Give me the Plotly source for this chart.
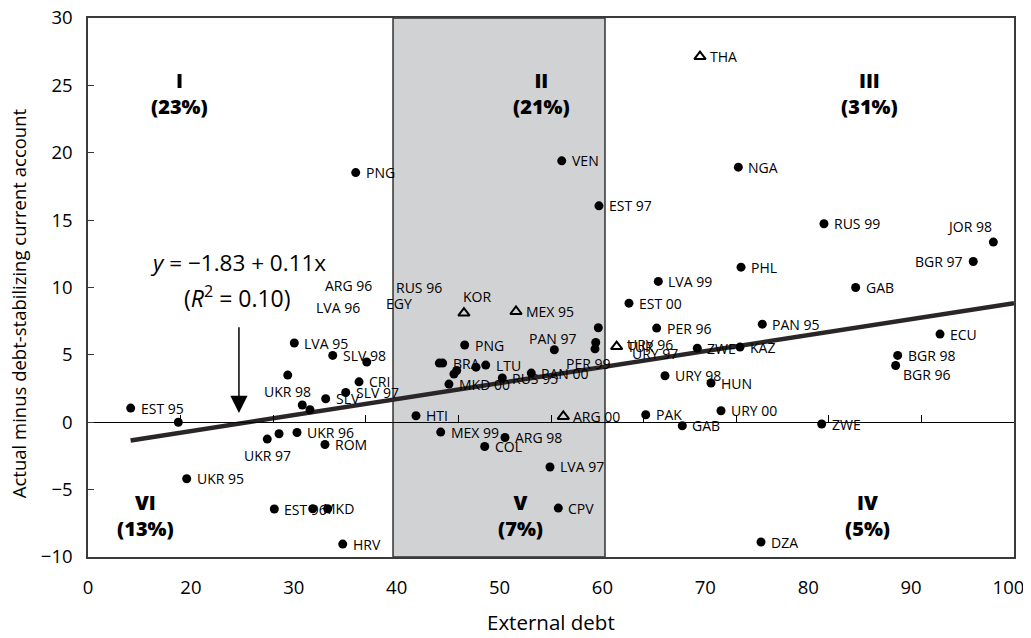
import plotly.graph_objects as go

# ---------------- data ----------------
circle_names = ["EST 95", "", "UKR 95", "UKR 98", "", "", "LVA 95", "SLV 98", "", "SLV",
                "SLV 97", "CRI", "UKR 97", "", "UKR 96", "ROM", "EST 96", "MKD", "", "HRV",
                "PNG", "PNG", "PAN 97", "", "", "", "BRA", "", "", "",
                "", "LTU", "MKD 00", "RUS 95", "PAN 00", "HTI", "MEX 99", "ARG 98", "COL", "LVA 97",
                "CPV", "VEN", "EST 97", "NGA", "PHL", "LVA 99", "GAB", "EST 00", "PER 96", "PAN 95",
                "ZWE", "KAZ", "ECU", "BGR 98", "BGR 96", "URY 98", "HUN", "PAK", "URY 00", "GAB",
                "ZWE", "DZA", "RUS 99", "JOR 98", "BGR 97"]
circle_x = [4.61, 9.75, 10.66, 21.57, 23.14, 23.97, 22.28, 26.43, 30.10, 25.67,
            27.83, 29.27, 19.36, 20.63, 22.57, 25.59, 20.12, 24.27, 25.89, 27.51,
            28.91, 40.68, 50.36, 55.11, 54.83, 54.75, 38.30, 37.94, 39.82, 39.52,
            41.90, 42.95, 38.98, 44.74, 47.87, 35.42, 38.09, 45.03, 42.84, 49.89,
            50.79, 51.16, 55.18, 70.23, 70.52, 61.59, 82.90, 58.42, 61.41, 72.82,
            65.80, 70.41, 92.01, 87.44, 87.22, 62.31, 67.28, 60.23, 68.36, 64.18,
            79.23, 72.68, 79.48, 97.77, 95.60]
circle_y = [1.05, 0.00, -4.19, 3.50, 1.28, 0.93, 5.88, 4.96, 4.47, 1.74,
            2.21, 3.00, -1.25, -0.85, -0.76, -1.65, -6.44, -6.42, -6.42, -9.04,
            18.53, 5.73, 5.38, 7.01, 5.92, 5.45, 4.39, 4.39, 3.84, 3.58,
            4.09, 4.24, 2.83, 3.28, 3.65, 0.48, -0.73, -1.13, -1.80, -3.32,
            -6.37, 19.40, 16.06, 18.93, 11.51, 10.45, 10.00, 8.84, 6.99, 7.28,
            5.50, 5.58, 6.54, 4.96, 4.21, 3.45, 2.91, 0.56, 0.85, -0.26,
            -0.13, -8.89, 14.73, 13.37, 11.93]

triangle_names = ["KOR", "MEX 95", "TUR", "ARG 00", "THA"]
triangle_x = [40.60, 46.22, 57.09, 51.33, 66.09]
triangle_y = [8.10, 8.22, 5.62, 0.43, 27.14]

# labels printed without a visible marker
loose_names = ["ARG 96", "LVA 96", "RUS 96", "EGY", "PER 99", "URY 96", "URY 97"]
loose_x = [28.08, 27.00, 35.75, 33.59, 54.00, 60.69, 61.23]
loose_y = [10.13, 8.49, 10.00, 8.79, 4.34, 5.75, 5.12]

trend_x = [4.6, 100.0]
trend_y = [-1.35, 8.84]

zone_names = ["I", "II", "III", "IV", "V", "VI"]
zone_shares = ["(23%)", "(21%)", "(31%)", "(5%)", "(7%)", "(13%)"]
zone_x = [9.9, 49.0, 84.4, 84.2, 46.7, 6.2]
zone_y = [24.4, 24.4, 24.4, -6.9, -6.9, -6.9]

band_x = [32.94, 55.83]          # shaded zone
x_tick_text = ["0", "20", "30", "40", "50", "60", "70", "80", "90", "100"]
zero_line_ticks = [10, 20, 30, 40, 50, 60, 70, 80, 90]

# ---------------- styling ----------------
FONT = "Open Sans, Noto Sans, DejaVu Sans, sans-serif"
label_pos = {"UKR 98": "b", "UKR 97": "b", "KOR": "tr", "PAN 97": "t",
             "JOR 98": "tl", "BGR 97": "l", "BGR 96": "br"}
pos_style = {
    "r": dict(xanchor="left", yanchor="middle", xshift=8, yshift=0),
    "l": dict(xanchor="right", yanchor="middle", xshift=-8, yshift=0),
    "b": dict(xanchor="center", yanchor="middle", xshift=0, yshift=-16),
    "t": dict(xanchor="center", yanchor="middle", xshift=-2, yshift=11),
    "tl": dict(xanchor="right", yanchor="middle", xshift=1, yshift=16),
    "tr": dict(xanchor="left", yanchor="middle", xshift=-3, yshift=17),
    "br": dict(xanchor="left", yanchor="middle", xshift=5, yshift=-9),
}
LABEL_SIZE = 14

# evenly spread tick labels; the last one is pulled in slightly so it is not clipped
n_ticks = len(x_tick_text)
x_tick_pos = [i * 100 / (n_ticks - 1) for i in range(n_ticks)]
x_tick_pos[-1] = 99.4

fig = go.Figure()

fig.add_trace(go.Scatter(x=trend_x, y=trend_y, mode="lines",
                         line=dict(color="#2a2627", width=4.5), hoverinfo="skip",
                         showlegend=False))
fig.add_trace(go.Scatter(x=circle_x, y=circle_y, mode="markers",
                         marker=dict(symbol="circle", size=9, color="black"),
                         text=circle_names, showlegend=False))
fig.add_trace(go.Scatter(x=triangle_x, y=triangle_y, mode="markers",
                         marker=dict(symbol="triangle-up-open", size=10, color="black",
                                     line=dict(width=2, color="black")),
                         text=triangle_names, showlegend=False))
# zero line with tick marks
fig.add_trace(go.Scatter(x=[None], y=[None], xaxis="x2", showlegend=False, hoverinfo="skip"))

annotations = []
for names, xs, ys in [(circle_names, circle_x, circle_y),
                      (triangle_names, triangle_x, triangle_y)]:
    for n, xv, yv in zip(names, xs, ys):
        if not n:
            continue
        st = pos_style[label_pos.get(n, "r")]
        annotations.append(dict(x=xv, y=yv, text=n, showarrow=False,
                                font=dict(family=FONT, size=LABEL_SIZE, color="black"), **st))
for n, xv, yv in zip(loose_names, loose_x, loose_y):
    annotations.append(dict(x=xv, y=yv, text=n, showarrow=False, xanchor="center",
                            yanchor="middle", font=dict(family=FONT, size=LABEL_SIZE, color="black")))

for zn, zs, zx, zy in zip(zone_names, zone_shares, zone_x, zone_y):
    annotations.append(dict(x=zx, y=zy, text=zn + "<br>" + zs, showarrow=False,
                            xanchor="center", yanchor="middle", align="center",
                            font=dict(family=FONT, size=20, color="black", weight=800)))

# regression equation and arrow
annotations.append(dict(x=16.2, y=11.83, text="<i>y</i> = \u22121.83 + 0.11x",
                        showarrow=False, xanchor="center", yanchor="middle",
                        font=dict(family=FONT, size=22.5, color="black")))
annotations.append(dict(x=16.1, y=9.31, text="(<i>R</i><sup>2</sup> = 0.10)",
                        showarrow=False, xanchor="center", yanchor="middle",
                        font=dict(family=FONT, size=23, color="black")))
annotations.append(dict(x=16.3, y=0.68, ax=16.3, ay=7.16, axref="x", ayref="y",
                        text="", showarrow=True, arrowhead=2, arrowsize=2.3,
                        arrowwidth=1.5, arrowcolor="black"))

# axis titles
annotations.append(dict(xref="paper", yref="paper", x=0.5, y=-0.12, text="External debt",
                        showarrow=False, xanchor="center", yanchor="middle",
                        font=dict(family=FONT, size=20.5, color="black")))
annotations.append(dict(xref="paper", yref="paper", x=-0.075, y=0.47, textangle=-90,
                        text="Actual minus debt-stabilizing current account",
                        showarrow=False, xanchor="center", yanchor="middle",
                        font=dict(family=FONT, size=18.5, color="black")))

fig.update_layout(
    width=1015, height=630,
    margin=dict(l=80, r=9, t=10, b=81, autoexpand=False),
    plot_bgcolor="white", paper_bgcolor="white",
    font=dict(family=FONT, color="black"),
    xaxis=dict(range=[0, 100], showgrid=False, zeroline=False, automargin=False,
               tickvals=x_tick_pos, ticktext=x_tick_text, ticks="",
               tickfont=dict(size=18.5, color="black"),
               ticklabelstandoff=13, ticklabeloverflow="allow",
               showline=True, linecolor="#3a3a3a", linewidth=1.5, mirror=True),
    xaxis2=dict(range=[0, 100], overlaying="x", anchor="free", position=0.25,
                side="bottom", showgrid=False, zeroline=False, showticklabels=False,
                tickvals=zero_line_ticks, ticks="inside", ticklen=7, tickwidth=1,
                tickcolor="black", showline=True, linecolor="black", linewidth=1),
    yaxis=dict(range=[-10, 30], dtick=5, showgrid=False, zeroline=False, automargin=False,
               ticks="inside", ticklen=6, tickcolor="#3a3a3a",
               tickfont=dict(size=18.5, color="black"), ticklabelstandoff=10,
               ticklabeloverflow="allow",
               showline=True, linecolor="#3a3a3a", linewidth=1.5, mirror=True),
    shapes=[dict(type="rect", xref="x", yref="y", x0=band_x[0], x1=band_x[1],
                 y0=-10, y1=30, fillcolor="#d1d2d4", line=dict(color="#333", width=1.5),
                 layer="below")],
    annotations=annotations,
)

fig.write_html("out.html")
